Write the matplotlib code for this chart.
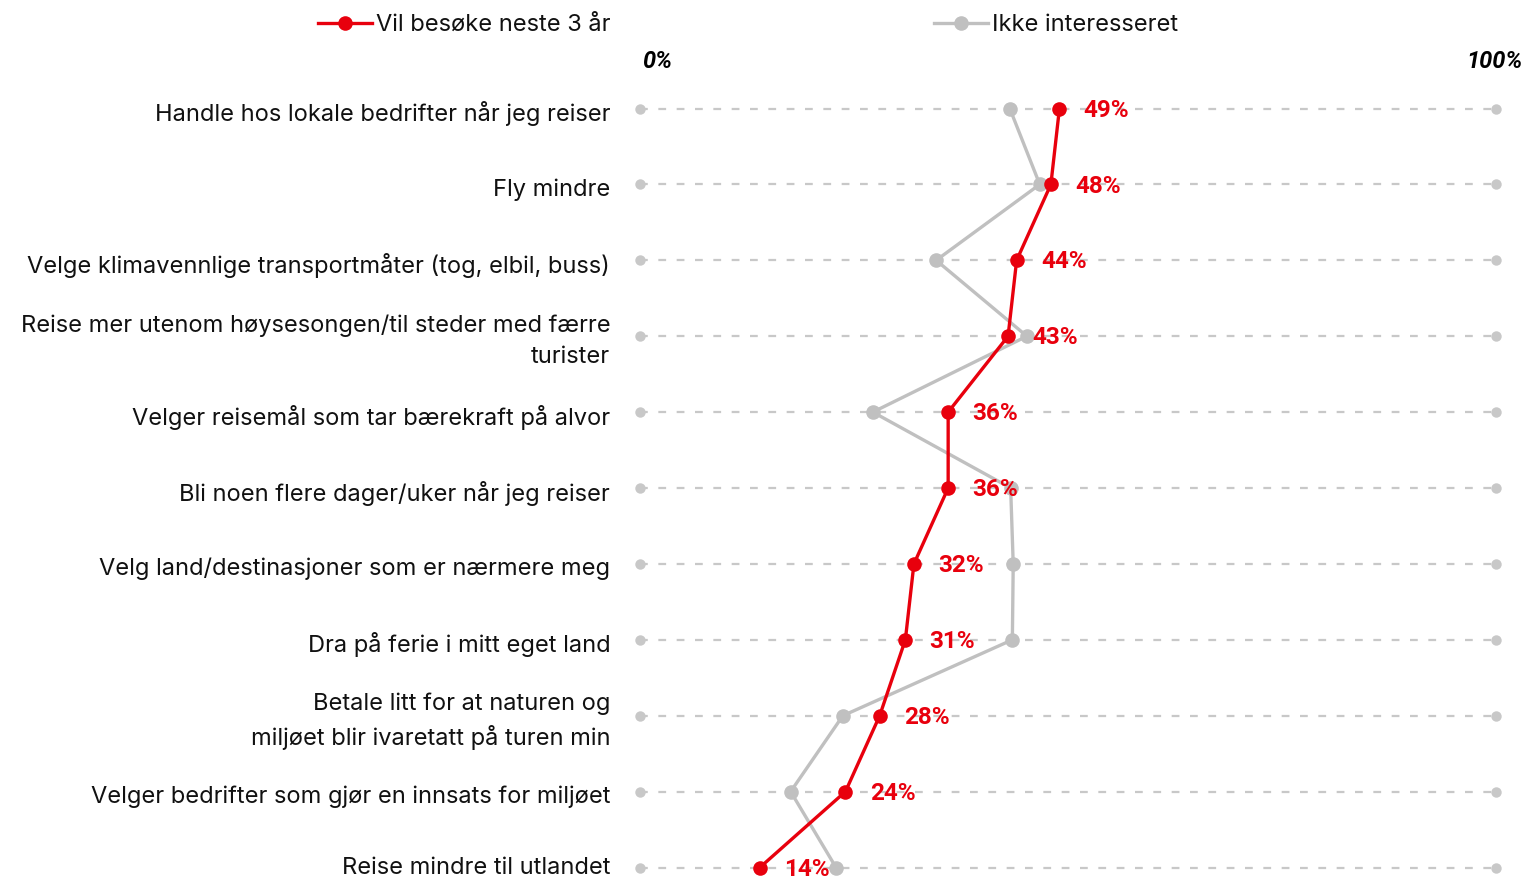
import matplotlib
matplotlib.use("Agg")
import matplotlib.pyplot as plt
from matplotlib.lines import Line2D

categories = [
    "Handle hos lokale bedrifter når jeg reiser",
    "Fly mindre",
    "Velge klimavennlige transportmåter (tog, elbil, buss)",
    "Reise mer utenom høysesongen/til steder med færre\nturister",
    "Velger reisemål som tar bærekraft på alvor",
    "Bli noen flere dager/uker når jeg reiser",
    "Velg land/destinasjoner som er nærmere meg",
    "Dra på ferie i mitt eget land",
    "Betale litt for at naturen og\nmiljøet blir ivaretatt på turen min",
    "Velger bedrifter som gjør en innsats for miljøet",
    "Reise mindre til utlandet",
]
vil_besoke = [49, 48, 44, 43, 36, 36, 32, 31, 28, 24, 14]
ikke_interessert = [43.2, 46.7, 34.6, 45.2, 27.2, 43.3, 43.6, 43.5, 23.7, 17.6, 22.9]
series_names = ["Vil besøke neste 3 år", "Ikke interesseret"]

RED = "#E8000D"
GREY = "#C0C0C0"
DASH = "#C8C8C8"
FONT = "Inter"
FS = 17

W, H = 1527, 879
fig = plt.figure(figsize=(W / 100, H / 100), dpi=100)
x0, x1 = 640, 1496
ytop, ybot = 109.5, 868.5
ax = fig.add_axes([x0 / W, (H - ybot) / H, (x1 - x0) / W, (ybot - ytop) / H])
n = len(categories)
ax.set_xlim(0, 100)
ax.set_ylim(n - 1, 0)
ax.axis("off")

ys = list(range(n))
lw_d = 1.6
for y in ys:
    ax.plot([0, 100], [y, y], color=DASH, lw=lw_d, ls=(0, (5.6 / lw_d, 7.6 / lw_d)),
            zorder=1, clip_on=False)
    ax.plot([0, 100], [y, y], ls="none", marker="o", ms=7.5, color=DASH,
            mec="none", zorder=1, clip_on=False)

ax.plot(ikke_interessert, ys, color=GREY, lw=2.4, marker="o", ms=10.5,
        mec="none", zorder=2, clip_on=False)
ax.plot(vil_besoke, ys, color=RED, lw=2.4, marker="o", ms=10.5,
        mec="none", zorder=3, clip_on=False)

for v, y in zip(vil_besoke, ys):
    ax.annotate(f"{v}%", (v, y), xytext=(17.5, -0.5), textcoords="offset points",
                ha="left", va="center", color=RED, fontsize=17.5,
                fontweight="bold", family="Roboto", zorder=4)

for i, (cat, y) in enumerate(zip(categories, ys)):
    dy = -3 if i < n - 1 else 0.5
    ax.annotate(cat, (0, y), xycoords="data", xytext=(-21.5, dy),
                textcoords="offset points", ha="right", va="center",
                fontsize=FS, family=FONT, color="#111111",
                linespacing=1.5, annotation_clip=False)

# scale labels
fig.text(642 / W, 1 - 62 / H, "0%", ha="left", va="center", fontsize=17,
         fontweight="bold", fontstyle="italic", family="Roboto")
fig.text(1523 / W, 1 - 62 / H, "100%", ha="right", va="center", fontsize=17,
         fontweight="bold", fontstyle="italic", family="Roboto")

# legend
ly = 1 - 23.5 / H
for (lx0, lx1, tx), col, name in [((318, 372, 376), RED, series_names[0]),
                                  ((934, 988, 992), GREY, series_names[1])]:
    fig.add_artist(Line2D([lx0 / W, lx1 / W], [ly, ly], color=col, lw=2.4,
                          transform=fig.transFigure))
    fig.add_artist(Line2D([(lx0 + lx1) / 2 / W], [ly], color=col, marker="o",
                          ms=10.5, mec="none", transform=fig.transFigure))
    fig.text(tx / W, ly - 1.5 / H, name, ha="left", va="center", fontsize=FS,
             family=FONT, color="#111111")

fig.savefig("out.png", dpi=100, facecolor="white")
